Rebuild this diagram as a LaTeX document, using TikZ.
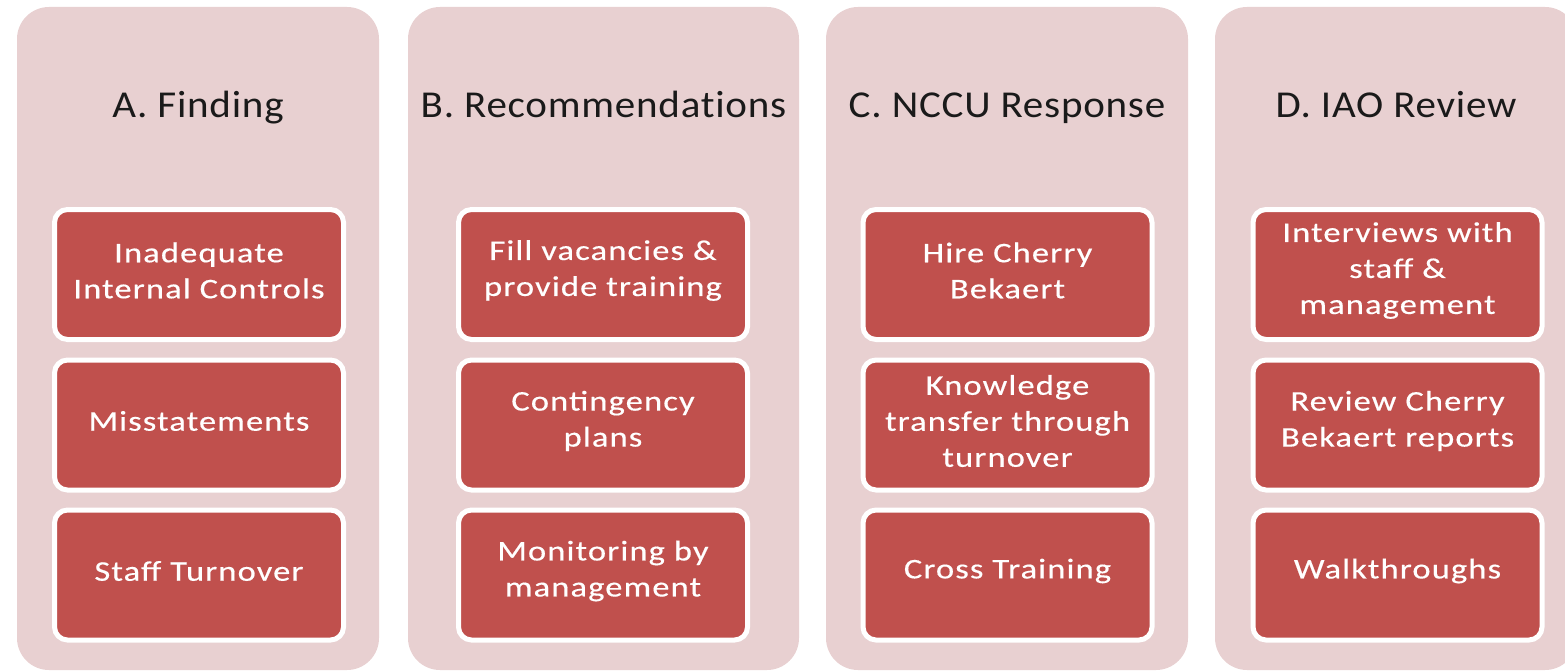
\documentclass[tikz,border=0pt]{standalone}
\usepackage{fontspec}
\setmainfont{Carlito}
\newfontfamily\itemfont[FakeStretch=1.21,LetterSpace=4,FakeBold=0.4]{Carlito}
\newfontfamily\titlefont[FakeStretch=1.08,LetterSpace=2,Ligatures=NoCommon]{Carlito}
\definecolor{panelpink}{HTML}{E8D0D1}
\definecolor{itemred}{HTML}{C0504D}
\definecolor{titleblack}{HTML}{1A1A1A}
\begin{document}
\begin{tikzpicture}[x=1pt,y=-1pt,
  panel/.style={fill=panelpink, draw=none, rounded corners=32pt, minimum height=663pt, inner sep=0pt},
  paneltitle/.style={text=titleblack, font=\titlefont\fontsize{38}{44}\selectfont, anchor=base, inner sep=0pt},
  item/.style={fill=itemred, draw=white, line width=5pt, rounded corners=13pt,
    minimum width=289pt, minimum height=130pt, inner sep=0pt},
  itemtext/.style={inner sep=0pt, text=white, align=center,
    font=\itemfont\fontsize{28.5}{36}\selectfont}]
\useasboundingbox (0,0) rectangle (1565,671);
\clip (0,0) rectangle (1565,671);
% panels
\node[panel, minimum width=362pt] (colA) at (198,338.5) {};
\node[panel, minimum width=391pt] (colB) at (603.5,338.5) {};
\node[panel, minimum width=362pt] (colC) at (1007,338.5) {};
\node[panel, minimum width=362pt] (colD) at (1396,338.5) {};
% titles
\node[paneltitle] (tA) at (198,118) {A. Finding};
\node[paneltitle] (tB) at (603.5,118) {B. Recommendations};
\node[paneltitle] (tC) at (1007,118) {C. NCCU Response};
\node[paneltitle] (tD) at (1396,118) {D. IAO Review};
% boxes
\node[item] (a1) at (199,274.5) {};
\node[item] (a2) at (199,425) {};
\node[item] (a3) at (199,575) {};
\node[item] (b1) at (603,274.5) {};
\node[item] (b2) at (603,425) {};
\node[item] (b3) at (603,575) {};
\node[item] (c1) at (1007.5,274.5) {};
\node[item] (c2) at (1007.5,425) {};
\node[item] (c3) at (1007.5,575) {};
\node[item] (d1) at (1397.5,274.5) {};
\node[item] (d2) at (1397.5,425) {};
\node[item] (d3) at (1397.5,575) {};
% texts
\node[itemtext] (a1t) at ([yshift=4pt]a1.center) {Inadequate\\Internal Controls};
\node[itemtext] (a2t) at ([yshift=4pt]a2.center) {Misstatements};
\node[itemtext] (a3t) at ([yshift=4pt]a3.center) {Staff Turnover};
\node[itemtext] (b1t) at ([yshift=4pt]b1.center) {Fill vacancies \&\\provide training};
\node[itemtext] (b2t) at ([yshift=4pt]b2.center) {Contingency\\plans};
\node[itemtext] (b3t) at ([yshift=4pt]b3.center) {Monitoring by\\management};
\node[itemtext] (c1t) at ([yshift=4pt]c1.center) {Hire Cherry\\Bekaert};
\node[itemtext] (c2t) at ([yshift=4pt]c2.center) {Knowledge\\transfer through\\turnover};
\node[itemtext] (c3t) at ([yshift=4pt]c3.center) {Cross Training};
\node[itemtext] (d1t) at ([yshift=4pt]d1.center) {Interviews with\\staff \&\\management};
\node[itemtext] (d2t) at ([yshift=4pt]d2.center) {Review Cherry\\Bekaert reports};
\node[itemtext] (d3t) at ([yshift=4pt]d3.center) {Walkthroughs};
\end{tikzpicture}
\end{document}
